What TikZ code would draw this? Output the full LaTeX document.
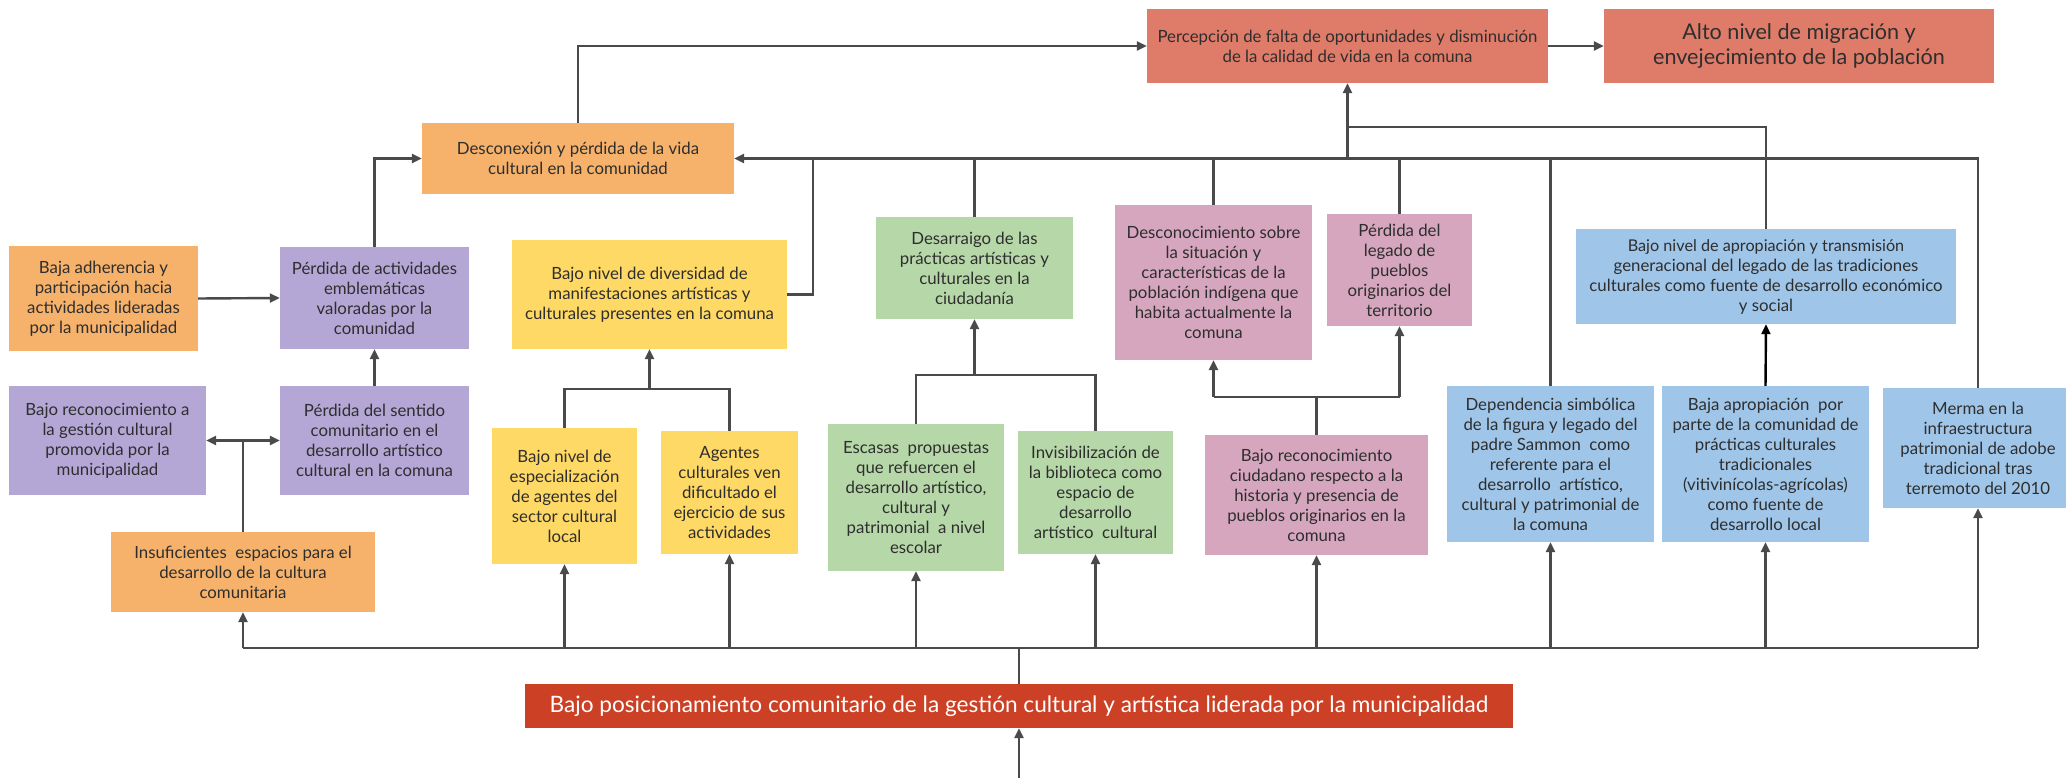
\documentclass[tikz,border=0pt]{standalone}
\usepackage{fontspec}
\setmainfont{Lato}
\usetikzlibrary{arrows.meta}
\definecolor{cOrange}{HTML}{F6B26B}
\definecolor{cPurple}{HTML}{B4A7D6}
\definecolor{cYellow}{HTML}{FFD966}
\definecolor{cGreen}{HTML}{B6D7A8}
\definecolor{cPink}{HTML}{D5A6BD}
\definecolor{cBlue}{HTML}{9FC5E8}
\definecolor{cRed}{HTML}{DF7B69}
\definecolor{cDark}{HTML}{CC4125}
\definecolor{cLine}{HTML}{4A4A4A}
\definecolor{cText}{HTML}{2E2E2E}
\newcommand{\cbox}[7]{%
  \pgfmathsetmacro\cbW{#4-#2}\pgfmathsetmacro\cbH{#5-#3}%
  \pgfmathsetmacro\cbX{(#2+#4)/2}\pgfmathsetmacro\cbY{(#3+#5)/2}%
  \node[cbx, fill=#6, minimum width=\cbW pt, minimum height=\cbH pt] (#1) at (\cbX,\cbY) {#7};}
\tikzset{
  cbx/.style={draw=none, inner sep=0pt, align=center, text=cText,
    font=\fontsize{16.8}{20}\selectfont},
  bigtxt/.style={font=\fontsize{21.6}{25}\selectfont},
  link/.style={draw=cLine, line width=2.4pt},
  arr/.style={link, -{Triangle[length=10pt,width=9pt]}},
}
\begin{document}
\begin{tikzpicture}[x=1pt,y=-1pt]
\useasboundingbox (0,0) rectangle (2066,778);
% boxes
\cbox{perc}{1147}{9}{1548}{83}{cRed}{Percepción de falta de oportunidades y disminución\\de la calidad de vida en la comuna}
\node[cbx, bigtxt, fill=cRed, minimum width=390pt, minimum height=74pt] (alto) at (1799,46) {Alto nivel de migración y\\envejecimiento de la población};
\cbox{desc}{422}{123}{734}{194}{cOrange}{Desconexión y pérdida de la vida\\cultural en la comunidad}
\cbox{adher}{9}{246}{198}{351}{cOrange}{Baja adherencia y\\participación hacia\\actividades lideradas\\por la municipalidad}
\cbox{pact}{280}{247}{469}{349}{cPurple}{Pérdida de actividades\\emblemáticas\\valoradas por la\\comunidad}
\cbox{div}{512}{240}{787}{349}{cYellow}{Bajo nivel de diversidad de\\manifestaciones artísticas y\\culturales presentes en la comuna}
\cbox{desarr}{876}{217}{1073}{319}{cGreen}{Desarraigo de las\\prácticas artísticas y\\culturales en la\\ciudadanía}
\cbox{descon}{1115}{205}{1312}{360}{cPink}{Desconocimiento sobre\\la situación y\\características de la\\población indígena que\\habita actualmente la\\comuna}
\cbox{legado}{1327}{214}{1472}{326}{cPink}{Pérdida del\\legado de\\pueblos\\originarios del\\territorio}
\cbox{aprop}{1576}{229}{1956}{324}{cBlue}{\fontsize{16.2}{20}\selectfont Bajo nivel de apropiación y transmisión\\generacional del legado de las tradiciones\\culturales como fuente de desarrollo económico\\y social}
\cbox{recon}{9}{386}{206}{495}{cPurple}{Bajo reconocimiento a\\la gestión cultural\\promovida por la\\municipalidad}
\cbox{sentido}{280}{386}{469}{495}{cPurple}{Pérdida del sentido\\comunitario en el\\desarrollo artístico\\cultural en la comuna}
\cbox{insuf}{111}{532}{375}{612}{cOrange}{Insuficientes\ \ espacios para el\\desarrollo de la cultura\\comunitaria}
\cbox{espec}{492}{428}{637}{564}{cYellow}{Bajo nivel de\\especialización\\de agentes del\\sector cultural\\local}
\cbox{agentes}{661}{431}{798}{554}{cYellow}{Agentes\\culturales ven\\dificultado el\\ejercicio de sus\\actividades}
\cbox{escasas}{828}{424}{1004}{571}{cGreen}{Escasas\ \ propuestas\\que refuercen el\\desarrollo artístico,\\cultural y\\patrimonial\ \ a nivel\\escolar}
\cbox{invis}{1018}{431}{1173}{554}{cGreen}{Invisibilización de\\la biblioteca como\\espacio de\\desarrollo\\artístico\ \ cultural}
\cbox{ciud}{1205}{435}{1428}{555}{cPink}{Bajo reconocimiento\\ciudadano respecto a la\\historia y presencia de\\pueblos originarios en la\\comuna}
\cbox{depend}{1447}{386}{1654}{542}{cBlue}{Dependencia simbólica\\de la figura y legado del\\padre Sammon\ \ como\\referente para el\\desarrollo\ \ artístico,\\cultural y patrimonial de\\la comuna}
\cbox{bajaap}{1662}{386}{1869}{542}{cBlue}{Baja apropiación\ \ por\\parte de la comunidad de\\prácticas culturales\\tradicionales\\(vitivinícolas-agrícolas)\\como fuente de\\desarrollo local}
\cbox{merma}{1883}{388}{2073}{508}{cBlue}{Merma en la\\infraestructura\\patrimonial de adobe\\tradicional tras\\terremoto del 2010}
\node[cbx, fill=cDark, text=white, font=\fontsize{22.6}{26}\selectfont, minimum width=988pt, minimum height=44pt] (pos) at (1019,706) {Bajo posicionamiento comunitario de la gestión cultural y artística liderada por la municipalidad};
% helper coordinates
\coordinate (bus) at (1019,648);
\coordinate (src) at (1019,778);
\coordinate (top) at (0,127);
\coordinate (jA) at (0,389);
\coordinate (jB) at (0,375);
\coordinate (jC) at (0,397);
\coordinate (dv) at (813,0);
% connectors
\draw[arr] (desc.north) |- (perc.west);
\draw[arr] (perc.east) -- (alto.west);
\draw[arr] (adher.east) -- (pact.west);
\draw[arr] (pact.north) |- (desc.west);
\draw[arr] (sentido.north) -- (pact.south);
\coordinate (jI) at (insuf.north |- recon.east);
\draw[link] (insuf.north) -- (jI);
\draw[arr] (jI) -- (recon.east);
\draw[arr] (jI) -- (sentido.west);
% bottom bus
\draw[arr] (src) -- (pos.south);
\draw[link] (pos.north) -- (bus);
\draw[link] (insuf.south |- bus) -- (merma.south |- bus);
\foreach \n in {insuf,espec,agentes,escasas,invis,ciud,depend,bajaap,merma}
  \draw[arr] (\n.south |- bus) -- (\n.south);
% yellow junction
\draw[link] (espec.north) |- (agentes.north |- jA) -- (agentes.north);
\draw[arr] (div.south |- jA) -- (div.south);
% green junction
\draw[link] (escasas.north) |- (invis.north |- jB) -- (invis.north);
\draw[arr] (desarr.south |- jB) -- (desarr.south);
% pink junction
\draw[link] (descon.south |- jC) -- (legado.south |- jC);
\draw[arr] (descon.south |- jC) -- (descon.south);
\draw[arr] (legado.south |- jC) -- (legado.south);
\draw[link] (ciud.north) -- (ciud.north |- jC);
% main line
\draw[arr] (merma.north) |- (desc.east);
\draw[link] (div.east) -| (dv |- desc.east);
\foreach \n in {desarr,descon,legado,depend}
  \draw[link] (\n.north) -- (\n.north |- desc.east);
\draw[arr] (perc.south |- desc.east) -- (perc.south);
\draw[link] (aprop.north) |- (perc.south |- top);
\draw[arr, draw=black] (bajaap.north) -- (aprop.south);
\end{tikzpicture}
\end{document}
